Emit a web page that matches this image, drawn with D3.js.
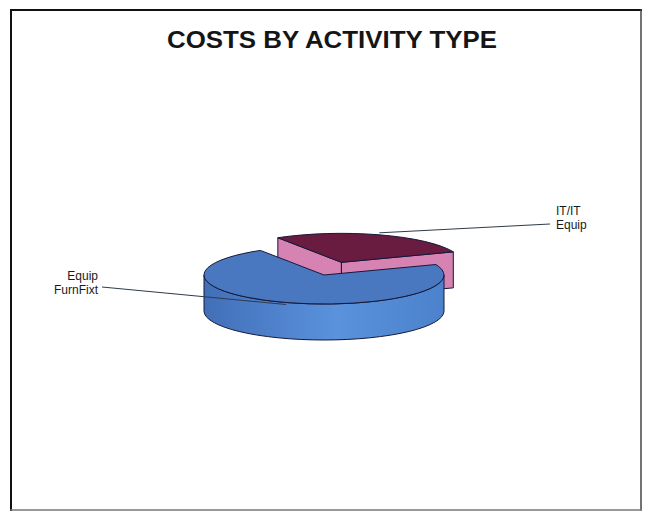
<!DOCTYPE html>
<html>
<head>
<meta charset="utf-8">
<script src="https://cdn.jsdelivr.net/npm/d3@7/dist/d3.min.js"></script>
<style>
  body { margin: 0; background: #fff; }
  text { font-family: "Liberation Sans", Arial, sans-serif; }
</style>
</head>
<body>
<div id="chart"></div>
<script>
// data
const categories = ["IT/IT Equip", "Equip FurnFixt"];
const labelLines = [["IT/IT", "Equip"], ["Equip", "FurnFixt"]];
const values = [28, 72];
const explode = [0.46, 0];

const color = {
  itTop: '#6a1c40',
  itSide: '#d682b2',
  equipTop: '#4a78c0',
  edge: '#16183a',
  leader: '#2f3a48'
};

// constants
const width = 650;
const height = 513;
const cx = 324, cy = 275;
const rx = 120, ry = 29, depth = 36;
const k = ry / rx;
const D = depth / k; // depth in the flattened (scaled) space

const svg = d3.select('#chart')
  .append('svg')
  .attr('width', width)
  .attr('height', height);

// frame: dark left/top, lighter right/bottom like the scan
const frame = [
  [11, 10, 641, 10, '#111', 2],
  [11, 10, 11, 510, '#111', 2],
  [641, 10, 641, 510, '#444', 1.5],
  [11, 510, 641, 510, '#777', 1.5]
];
frame.forEach(([x1, y1, x2, y2, c, w]) =>
  svg.append('line')
    .attr('x1', x1).attr('y1', y1).attr('x2', x2).attr('y2', y2)
    .attr('stroke', c).attr('stroke-width', w)
    .attr('stroke-linecap', 'square'));

// title
svg.append('text')
  .attr('x', 332).attr('y', 48)
  .attr('text-anchor', 'middle')
  .attr('font-size', 23.5)
  .attr('font-weight', 'bold')
  .attr('textLength', 330)
  .attr('lengthAdjust', 'spacingAndGlyphs')
  .attr('fill', '#151515')
  .text('COSTS BY ACTIVITY TYPE');

// gradient for the blue rim
const defs = svg.append('defs');
const grad = defs.append('linearGradient').attr('id', 'blueWall')
  .attr('x1', 0).attr('x2', 1).attr('y1', 0).attr('y2', 0);
[[0, '#416fb8'], [0.55, '#5a92dc'], [1, '#4c82cc']].forEach(([o, c]) =>
  grad.append('stop').attr('offset', o).attr('stop-color', c));

// pie angles
const pie = d3.pie().sort(null).startAngle(-32 * Math.PI / 180).endAngle(328 * Math.PI / 180);
const slices = pie(values);

const arcTop = d3.arc().innerRadius(0).outerRadius(rx);

function pt(a, r) { return [r * Math.sin(a), -r * Math.cos(a)]; }

function wallPath(a0, a1) {
  const p = d3.path();
  const [x0, y0] = pt(a0, rx);
  const [x1, y1] = pt(a1, rx);
  p.moveTo(x0, y0);
  p.arc(0, 0, rx, a0 - Math.PI / 2, a1 - Math.PI / 2, false);
  p.lineTo(x1, y1 + D);
  p.arc(0, D, rx, a1 - Math.PI / 2, a0 - Math.PI / 2, true);
  p.closePath();
  return p.toString();
}

function sidePath(a) {
  const [x, y] = pt(a, rx);
  return `M0,0L${x},${y}L${x},${y + D}L0,${D}Z`;
}

// flattened group
const g = svg.append('g')
  .attr('transform', `translate(${cx},${cy}) scale(1,${k})`);

function offsetOf(i) {
  const s = slices[i];
  const mid = (s.startAngle + s.endAngle) / 2;
  return pt(mid, explode[i] * rx);
}

// back slice (IT) first, then the front slice
[0, 1].forEach(i => {
  const s = slices[i];
  const [ox, oy] = offsetOf(i);
  const sg = g.append('g').attr('transform', `translate(${ox},${oy})`);
  const top = i === 0 ? color.itTop : color.equipTop;
  const side = i === 0 ? color.itSide : 'url(#blueWall)';

  // radial side faces facing the viewer
  [[s.startAngle, -1], [s.endAngle, 1]].forEach(([a, dir]) => {
    const n = a + dir * Math.PI / 2;
    if (-Math.cos(n) > 0) {
      sg.append('path')
        .attr('d', sidePath(a))
        .attr('fill', i === 0 ? color.itSide : '#3f6fb8')
        .attr('stroke', color.edge)
        .attr('stroke-width', 1)
        .attr('vector-effect', 'non-scaling-stroke');
    }
  });

  // outer rim, front half only
  const w0 = Math.max(s.startAngle, Math.PI / 2);
  const w1 = Math.min(s.endAngle, 3 * Math.PI / 2);
  if (w1 > w0) {
    sg.append('path')
      .attr('d', wallPath(w0, w1))
      .attr('fill', side)
      .attr('stroke', color.edge)
      .attr('stroke-width', 1)
      .attr('vector-effect', 'non-scaling-stroke');
  }

  // top face
  sg.append('path')
    .attr('d', arcTop(s))
    .attr('fill', top)
    .attr('stroke', color.edge)
    .attr('stroke-width', 1)
    .attr('vector-effect', 'non-scaling-stroke');
});

// labels with leader lines
const labelPos = [
  { x: 556, y: 215, anchor: 'start', lx: 550, ly: 224 },
  { x: 98, y: 280, anchor: 'end', lx: 102, ly: 287 }
];

slices.forEach((s, i) => {
  const mid = (s.startAngle + s.endAngle) / 2;
  const [ox, oy] = offsetOf(i);
  const [px, py] = pt(mid, rx);
  const sx = cx + px + ox;
  const sy = cy + (py + oy) * k + (i === 1 ? 2 : -2);
  const lp = labelPos[i];

  svg.append('line')
    .attr('x1', lp.lx).attr('y1', lp.ly)
    .attr('x2', sx).attr('y2', sy)
    .attr('stroke', color.leader)
    .attr('stroke-width', 1);

  const t = svg.append('text')
    .attr('text-anchor', lp.anchor)
    .attr('font-size', 12)
    .attr('fill', '#1a1a1a');
  labelLines[i].forEach((line, j) => {
    t.append('tspan')
      .attr('x', lp.x)
      .attr('y', lp.y + j * 13.5)
      .text(line);
  });
});
</script>
</body>
</html>
